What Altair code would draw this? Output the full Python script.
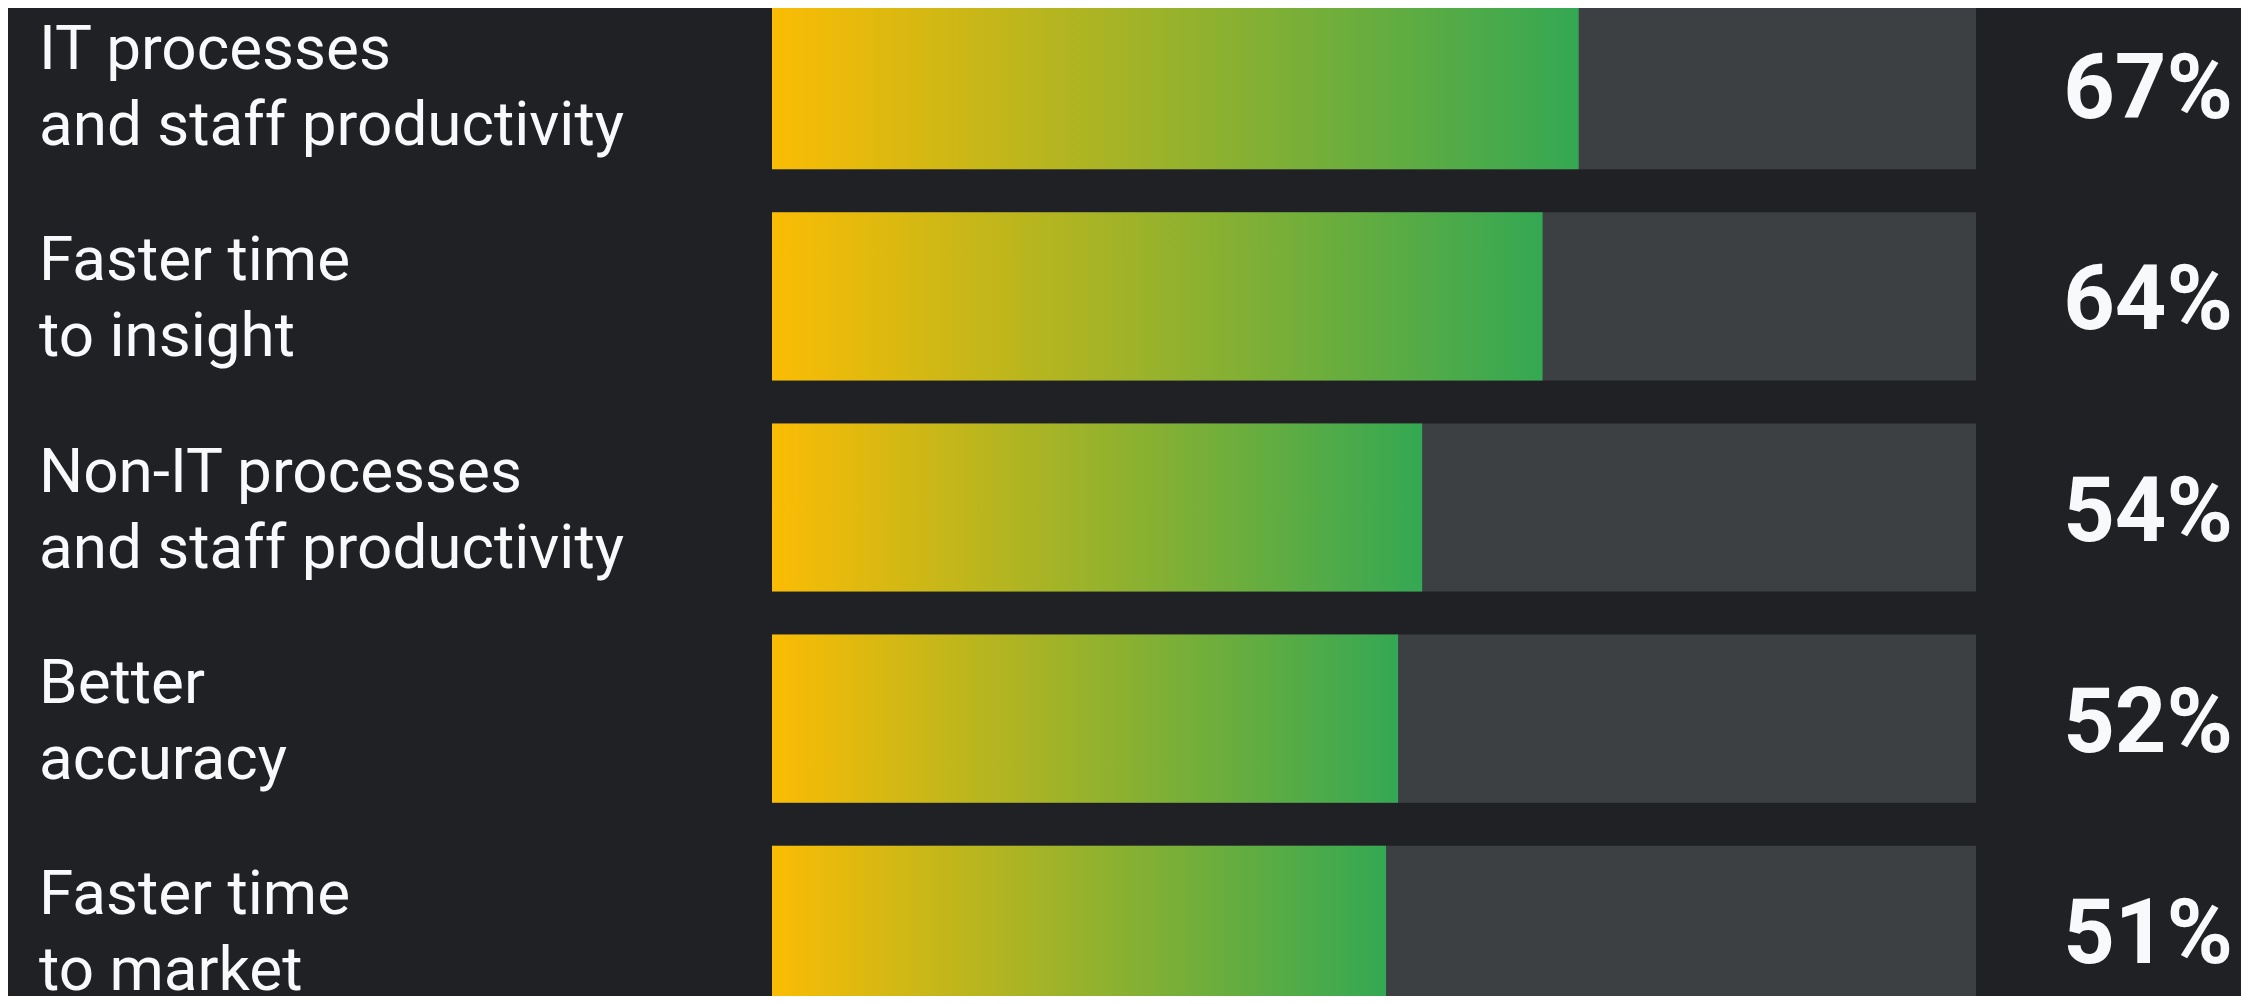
import altair as alt
import pandas as pd

categories = [
    "IT processes\nand staff productivity",
    "Faster time\nto insight",
    "Non-IT processes\nand staff productivity",
    "Better\naccuracy",
    "Faster time\nto market",
]
values = [67, 64, 54, 52, 51]

df = pd.DataFrame({"category": categories, "value": values})

BG = "#202124"
TRACK = "#3c4043"
TEXT = "#f8f9fa"

xscale = alt.Scale(domain=[0, 100], range=[764, 1968])
yscale = alt.Scale(domain=categories, range=[-7, 1006], paddingInner=0.2036, paddingOuter=0)

base = alt.Chart(df)

track = base.transform_calculate(full="100").mark_bar(color=TRACK).encode(
    x=alt.X("full:Q", scale=xscale, axis=None),
    x2=alt.datum(0),
    y=alt.Y("category:N", scale=yscale, axis=None, sort=categories),
)

grad = alt.Gradient(
    gradient="linear",
    stops=[
        alt.GradientStop(color="#fbbc04", offset=0),
        alt.GradientStop(color="#34a853", offset=1),
    ],
    x1=0, x2=1, y1=0, y2=0,
)

bars = base.mark_bar(color=grad).encode(
    x=alt.X("value:Q", scale=xscale, axis=None),
    x2=alt.datum(0),
    y=alt.Y("category:N", scale=yscale, axis=None, sort=categories),
)

cat_text = base.mark_text(
    align="left", baseline="middle", font="Roboto", fontSize=62,
    lineHeight=76, lineBreak="\n", color=TEXT, dy=-35,
).encode(
    x=alt.value(31),
    y=alt.Y("category:N", scale=yscale, axis=None, sort=categories),
    text="category:N",
)

pct_text = base.transform_calculate(label="datum.value + '%'").mark_text(
    align="right", baseline="middle", font="Roboto", fontSize=90,
    fontWeight="bold", color=TEXT, dy=6,
).encode(
    x=alt.value(2225),
    y=alt.Y("category:N", scale=yscale, axis=None, sort=categories),
    text="label:N",
)

chart = alt.layer(track, bars, cat_text, pct_text).properties(
    width=2233, height=988, background=BG,
    autosize=alt.AutoSizeParams(type="none"), padding=0,
).configure_view(stroke=None)

chart.save("out.html", embed_options={"renderer": "svg", "actions": False})
